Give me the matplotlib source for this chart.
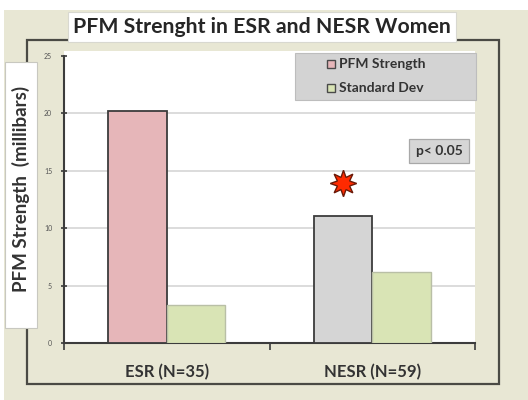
import matplotlib
matplotlib.use("Agg")
import matplotlib.pyplot as plt
from matplotlib.patches import Rectangle

# PFM strength (millibars) by group, with standard deviation
groups = ["ESR (N=35)", "NESR (N=59)"]
strength = [20.2, 11.1]
std_dev = [3.3, 6.2]
series_names = ["PFM Strength", "Standard Dev"]
star_level = 13.9  # significance marker above NESR
yticks = [0, 5, 10, 15, 20, 25]

W, H = 528, 400
BEIGE = "#e8e7d4"
PINK = "#e6b6b9"
GRAY = "#d5d5d5"
GREEN = "#d9e4b5"
DARK = "#3c3c3c"
FONT = "Lato"


def px(x, y):
    return x / W, 1 - y / H


fig = plt.figure(figsize=(W / 100, H / 100), dpi=100)
fig.patch.set_facecolor("white")

# beige slide background and chart frame
fig.patches.append(Rectangle(px(4, 400), 524 / W, 390 / H, transform=fig.transFigure,
                             facecolor=BEIGE, edgecolor="none", zorder=0))
fig.patches.append(Rectangle(px(27, 384), 472 / W, 344 / H, transform=fig.transFigure,
                             facecolor="none", edgecolor="#4a4a44", lw=1.6, zorder=1))
# white plot area
fig.patches.append(Rectangle(px(64, 343), 411 / W, 292 / H, transform=fig.transFigure,
                             facecolor="white", edgecolor="none", zorder=1))

ax = fig.add_axes([64 / W, 1 - 343 / H, 411 / W, 287 / H])
ax.set_facecolor("none")
ax.set_zorder(2)

x = [0, 1]
w = 0.285
ax.bar([i - w / 2 for i in x], strength, width=w, color=[PINK, GRAY],
       edgecolor=DARK, linewidth=1.3, zorder=3)
ax.bar([i + w / 2 for i in x], std_dev, width=w, color=GREEN,
       edgecolor="#b9bfa6", linewidth=1.0, zorder=3)

ax.plot(1 - w / 2, star_level, marker=(8, 1, 0), markersize=19,
        markerfacecolor="#ff2a00", markeredgecolor="#6b1a08", markeredgewidth=1.0,
        zorder=4, clip_on=False)

ax.set_xlim(-0.5, 1.5)
ax.set_ylim(0, 25)
ax.set_yticks(yticks)
ax.set_yticklabels([str(t) for t in yticks], fontsize=5, color="#555555", family=FONT)
ax.tick_params(axis="y", direction="inout", length=5, width=1.2, color=DARK, pad=6)
for t in yticks[1:-1]:
    ax.axhline(t, color="#d9d9d9", lw=1.3, zorder=1)

ax.set_xticks([-0.5, 0.5, 1.5])
ax.set_xticklabels([])
ax.set_xticks(x, minor=True)
ax.set_xticklabels(groups, minor=True, fontsize=12, fontweight="bold",
                   color="#333333", family=FONT)
ax.tick_params(axis="x", which="major", direction="out", length=5, width=1.2, color=DARK)
ax.tick_params(axis="x", which="minor", length=0, pad=15)

for side in ["top", "right"]:
    ax.spines[side].set_visible(False)
for side in ["left", "bottom"]:
    ax.spines[side].set_color(DARK)
    ax.spines[side].set_linewidth(1.5)

# title box
fig.text(*px(262, 27), "PFM Strenght in ESR and NESR Women", ha="center", va="center",
         fontsize=15.3, fontweight="bold", color="#262626", family=FONT, zorder=5,
         bbox=dict(boxstyle="square,pad=0.22", facecolor="white", edgecolor="#d8d8d0", lw=0.8))

# y label box
fig.patches.append(Rectangle(px(5, 328), 32 / W, 266 / H, transform=fig.transFigure,
                             facecolor="white", edgecolor="#c8c8c0", lw=0.8, zorder=4))
fig.text(*px(21, 189), "PFM Strength  (millibars)", rotation=90, ha="center", va="center",
         fontsize=13.5, fontweight="bold", color="#333333", family=FONT, zorder=5)

# legend
fig.patches.append(Rectangle(px(295, 100), 181 / W, 47 / H, transform=fig.transFigure,
                             facecolor="#d3d3d3", edgecolor="#bdbdbd", lw=0.8, zorder=4))
for (ly, name, col) in [(64, series_names[0], PINK), (88, series_names[1], GREEN)]:
    fig.patches.append(Rectangle(px(327, ly + 4), 8 / W, 8 / H, transform=fig.transFigure,
                                 facecolor=col, edgecolor="#4a4a4a", lw=1.0, zorder=5))
    fig.text(*px(339, ly), name, ha="left", va="center", fontsize=10, fontweight="bold",
             color="#333333", family=FONT, zorder=5)

# significance note
fig.text(*px(439, 151), "p< 0.05", ha="center", va="center", fontsize=10, fontweight="bold",
         color="#333333", family=FONT, zorder=5,
         bbox=dict(boxstyle="square,pad=0.45", facecolor="#d6d6d6", edgecolor="#a8a8a8", lw=0.9))

fig.savefig("out.png", dpi=100)
